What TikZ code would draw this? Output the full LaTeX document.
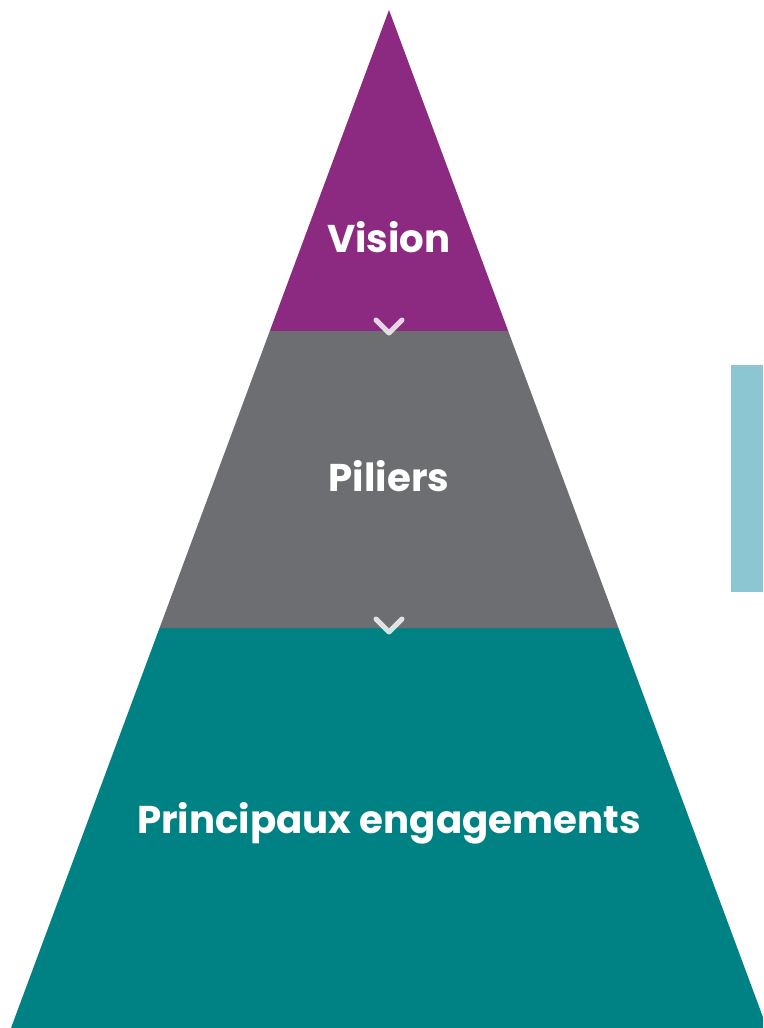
\documentclass[tikz,border=0pt]{standalone}
\usepackage{fontspec}
\setmainfont{Poppins}
\usetikzlibrary{positioning, calc}
\definecolor{visionpurple}{HTML}{8B2A80}
\definecolor{piliergray}{HTML}{6D6E71}
\definecolor{engteal}{HTML}{008284}
\definecolor{sidebarblue}{HTML}{8CC6D3}
\tikzset{
bandtext/.style={%
    text=white,
    inner sep=0pt,
    anchor=base,
    font=\bfseries\fontsize{38.7}{38.7}\selectfont
},
chevron/.style={%
    draw=white, draw opacity=0.8,
    line width=5pt, line cap=round, line join=round
},
}

\begin{document}
\begin{tikzpicture}[x=1pt, y=-1pt]
	\useasboundingbox (0,0) rectangle (763,1028);
	\clip (0,0) rectangle (763,1028);
	\coordinate (apex) at (389,10);
	\coordinate (bl) at (11,1028);
	\coordinate (br) at (767,1028);
	\coordinate (vl) at ($(apex)!0.3153!(bl)$);
	\coordinate (vr) at ($(apex)!0.3153!(br)$);
	\coordinate (pl) at ($(apex)!0.6071!(bl)$);
	\coordinate (pr) at ($(apex)!0.6071!(br)$);

	% bands
	\fill[engteal] (pl) -- (pr) -- (br) -- (bl) -- cycle;
	\fill[piliergray] (vl) -- (vr) -- (pr) -- (pl) -- cycle;
	\fill[visionpurple] (apex) -- (vr) -- (vl) -- cycle;

	% side bar
	\fill[sidebarblue] (731,365) rectangle (763,592);

	\node[bandtext] (vision) at (389,252) {Vision};
	\node[bandtext] (piliers) at (389,491) {Piliers};
	\node[bandtext] (engagements) at (389,833) {Principaux engagements};

	% chevrons
	\coordinate (c1) at (389,333);
	\coordinate (c2) at (389,632);
	\draw[chevron] ($(c1)+(-13,-13)$) -- (c1) -- ($(c1)+(13,-13)$);
	\draw[chevron] ($(c2)+(-13,-13)$) -- (c2) -- ($(c2)+(13,-13)$);
\end{tikzpicture}
\end{document}
